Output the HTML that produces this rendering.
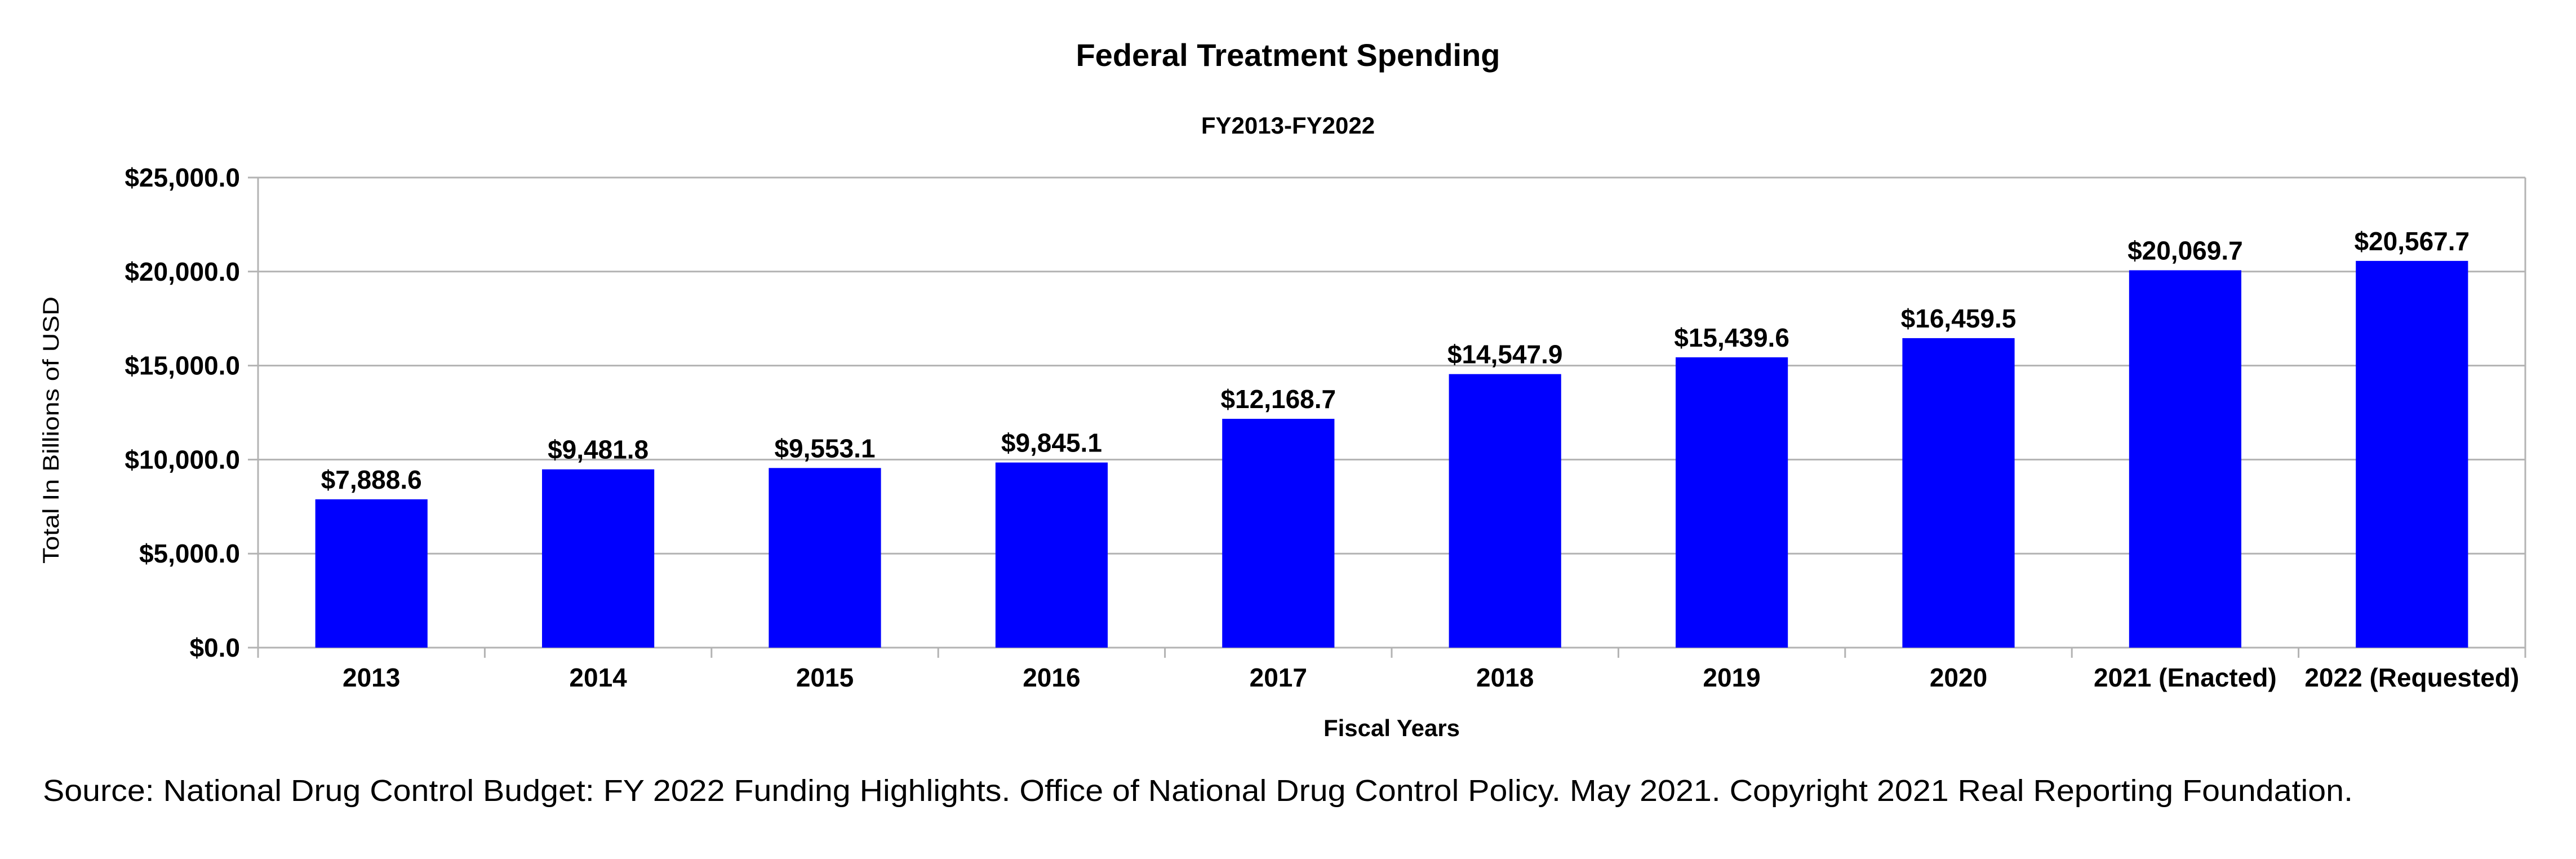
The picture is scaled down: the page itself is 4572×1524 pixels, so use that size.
<!DOCTYPE html>
<html><head><meta charset="utf-8"><style>
html,body{margin:0;padding:0;background:#fff;}
svg{display:block;font-family:"Liberation Sans",Arial,sans-serif;}
</style></head><body>
<svg id="chart" width="4572" height="1524" viewBox="0 0 4572 1524" xmlns="http://www.w3.org/2000/svg">
<rect x="0" y="0" width="4572" height="1524" fill="#fff"/>
<text x="2286" y="117" text-anchor="middle" font-size="56" font-weight="bold">Federal Treatment Spending</text>
<text x="2286" y="237" text-anchor="middle" font-size="42" font-weight="bold">FY2013-FY2022</text>
<g id="grid"></g>
<g id="bars"></g>
<g id="axes"></g>
<text x="0" y="0" transform="translate(104,763) rotate(-90)" text-anchor="middle" font-size="40" textLength="474" lengthAdjust="spacingAndGlyphs">Total In Billions of USD</text>
<text x="2470" y="1306" text-anchor="middle" font-size="42" font-weight="bold">Fiscal Years</text>
<text x="76" y="1421" font-size="54" textLength="4100" lengthAdjust="spacingAndGlyphs">Source: National Drug Control Budget: FY 2022 Funding Highlights. Office of National Drug Control Policy. May 2021. Copyright 2021 Real Reporting Foundation.</text>
</svg>
<script>
const categories = ["2013","2014","2015","2016","2017","2018","2019","2020","2021 (Enacted)","2022 (Requested)"];
const values = [7888.6,9481.8,9553.1,9845.1,12168.7,14547.9,15439.6,16459.5,20069.7,20567.7];
const valueLabels = ["$7,888.6","$9,481.8","$9,553.1","$9,845.1","$12,168.7","$14,547.9","$15,439.6","$16,459.5","$20,069.7","$20,567.7"];
const yTicks = [0,5000,10000,15000,20000,25000];
const yTickLabels = ["$0.0","$5,000.0","$10,000.0","$15,000.0","$20,000.0","$25,000.0"];

const NS="http://www.w3.org/2000/svg";
const L=458,R=4482,T=315,B=1149,yMax=25000;
const y=v=>B-(v/yMax)*(B-T);
const band=(R-L)/categories.length;
const x=i=>L+band*i;
function mk(tag,attrs,parent,text){const e=document.createElementNS(NS,tag);for(const k in attrs)e.setAttribute(k,attrs[k]);if(text!==undefined)e.textContent=text;parent.appendChild(e);return e;}
const grid=document.getElementById('grid'),bars=document.getElementById('bars'),axes=document.getElementById('axes');
yTicks.forEach((t,i)=>{
  const g=mk('line',{x1:L-18,x2:R,y1:y(t),y2:y(t),stroke:'#b3b3b3','stroke-width':3},grid);
  
  
  const lb=mk('text',{x:L-32,y:y(t)+16,'text-anchor':'end','font-size':46,'font-weight':'bold'},axes,yTickLabels[i]);
  
  
});
const ax=mk('line',{x1:L,x2:L,y1:T,y2:B+18,stroke:'#b3b3b3','stroke-width':3},axes);


const ar=mk('line',{x1:R,x2:R,y1:T,y2:B+18,stroke:'#b3b3b3','stroke-width':3},axes);


for(let i=1;i<categories.length;i++){
  const tk=mk('line',{x1:x(i),x2:x(i),y1:B,y2:B+18,stroke:'#b3b3b3','stroke-width':3},axes);
  
  
}
const bw=band*0.495;
categories.forEach((c,i)=>{
  const cx=x(i)+band/2;
  const r=mk('rect',{x:cx-bw/2,y:y(values[i]),width:bw,height:B-y(values[i]),fill:'#0000ff'},bars);
  
  
  const vl=mk('text',{x:cx,y:y(values[i])-19,'text-anchor':'middle','font-size':46,'font-weight':'bold'},bars,valueLabels[i]);
  
  
  const cl=mk('text',{x:cx,y:1218,'text-anchor':'middle','font-size':46,'font-weight':'bold'},axes,c);
  
  
});
</script>
</body></html>
